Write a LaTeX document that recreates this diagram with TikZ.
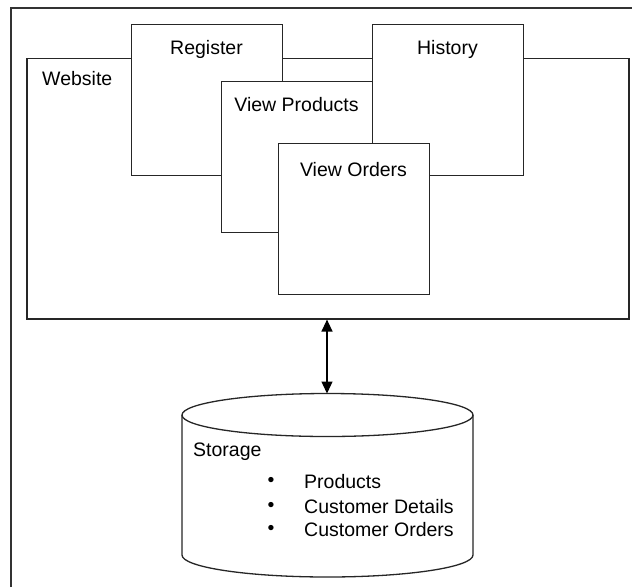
\documentclass[tikz,border=0pt]{standalone}
\usepackage{fontspec}
\setmainfont{Liberation Sans}
\usetikzlibrary{arrows.meta}
\begin{document}
\begin{tikzpicture}[x=1pt,y=-1pt,
  box/.style={draw=black!85,line width=1.3pt,fill=white,rectangle,inner sep=0pt,minimum width=#1,minimum height=#1},
  lbl/.style={font=\fontsize{19.5}{22}\selectfont,inner sep=0pt,text=black},
  lblw/.style={lbl,anchor=west}]
\useasboundingbox (0,0) rectangle (632,587);
% outer frame (cropped)
\draw[line width=2pt,draw=black!80] (11,587) -- (11,8) -- (632,8);
% website
\node[draw=black!85,line width=1.6pt,fill=white,rectangle,inner sep=0pt,minimum width=602,minimum height=260.5,anchor=north west] (web) at (26,57.5) {};
\node[lblw] (webt) at (42,79) {Website};
% register
\node[box=151,anchor=north west] (reg) at (131,24) {};
\node[lbl] (regt) at (206.5,49) {Register};
% view products
\node[box=151,anchor=north west] (vp) at (221,81) {};
\node[lbl] (vpt) at (296.5,105) {View Products};
% history
\node[box=151,anchor=north west] (his) at (372,24) {};
\node[lbl] (hist) at (447.5,49) {History};
% view orders
\node[box=151,anchor=north west] (vo) at (278,143) {};
\node[lbl] (vot) at (353.5,170) {View Orders};
% storage cylinder
\fill[white] (182,415) -- (182,555) arc[start angle=180,end angle=0,x radius=145.5,y radius=22] -- (473,415) -- cycle;
\draw[line width=1.3pt,draw=black!85] (182,415) -- (182,555) arc[start angle=180,end angle=0,x radius=145.5,y radius=22] -- (473,415);
\draw[line width=1.3pt,draw=black!85,fill=white] (327.5,415) ellipse[x radius=145.5,y radius=21.5];
\coordinate (dbtop) at (327,393.5);
\node[lblw] (st) at (193,452) {Storage};
\node[lbl] (b1) at (271,482) {•};
\node[lbl] (b2) at (271,507) {•};
\node[lbl] (b3) at (271,530) {•};
\node[lblw] (i1) at (304,482) {Products};
\node[lblw] (i2) at (304,507) {Customer Details};
\node[lblw] (i3) at (304,530) {Customer Orders};
% arrow
\draw[line width=1.3pt,{Triangle[width=11pt,length=12pt]}-{Triangle[width=11pt,length=12pt]}] (web.south -| dbtop) -- (dbtop);
\end{tikzpicture}
\end{document}
